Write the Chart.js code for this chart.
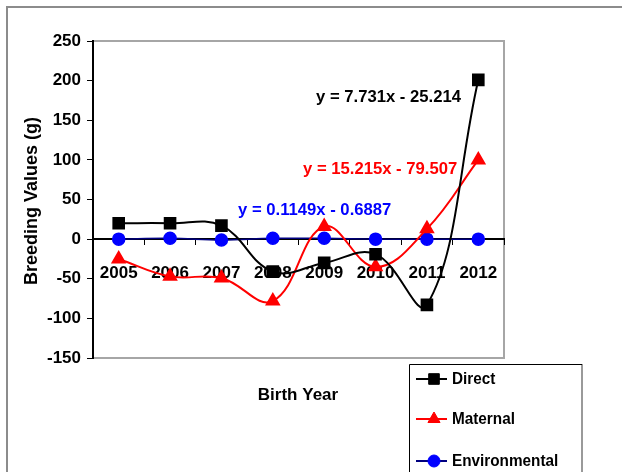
<!DOCTYPE html>
<html>
<head>
<meta charset="utf-8">
<script src="https://cdn.jsdelivr.net/npm/chart.js@4.4.0/dist/chart.umd.min.js"></script>
<style>
html,body{margin:0;padding:0;background:#fff;}
#wrap{width:622px;height:472px;position:relative;}
</style>
</head>
<body>
<div id="wrap"><canvas id="c" width="622" height="472"></canvas></div>
<script>
const categories = ['2005','2006','2007','2008','2009','2010','2011','2012'];
const directValues = [20, 20, 17, -41, -30, -19, -83, 201];
const maternalValues = [-25, -47, -49, -78, 16, -35, 13, 100];
const environmentalValues = [0, 1, -1, 1, 1, 0, 0, 0];
const seriesNames = ['Direct', 'Maternal', 'Environmental'];
const trendLabels = ['y = 7.731x - 25.214', 'y = 15.215x - 79.507', 'y = 0.1149x - 0.6887'];
const yTitle = 'Breeding Values (g)';
const xTitle = 'Birth Year';

const FONT = '"Liberation Sans", Arial, sans-serif';

const decorPlugin = {
  id: 'decor',
  beforeDraw(chart) {
    const ctx = chart.ctx;
    const a = chart.chartArea;
    ctx.save();
    ctx.fillStyle = '#fff';
    ctx.fillRect(0, 0, chart.width, chart.height);
    ctx.strokeStyle = '#8c8c8c';
    ctx.lineWidth = 2;
    ctx.beginPath();
    ctx.moveTo(7, chart.height + 2);
    ctx.lineTo(7, 7);
    ctx.lineTo(chart.width + 2, 7);
    ctx.stroke();
    ctx.strokeStyle = '#a6a6a6';
    ctx.lineWidth = 2;
    ctx.strokeRect(a.left, a.top, a.right - a.left, a.bottom - a.top);
    ctx.restore();
  },
  afterDraw(chart) {
    const ctx = chart.ctx;
    ctx.save();
    ctx.fillStyle = '#000';
    ctx.textAlign = 'center';
    ctx.textBaseline = 'middle';
    ctx.font = 'bold 17px ' + FONT;
    ctx.fillText(xTitle, 298, 395);
    ctx.save();
    ctx.translate(32, 201);
    ctx.rotate(-Math.PI / 2);
    ctx.font = 'bold 18px ' + FONT;
    ctx.fillText(yTitle, 0, 0);
    ctx.restore();
    ctx.font = 'bold 17px ' + FONT;
    ctx.textAlign = 'left';
    const eqColors = ['#000000', '#ff0000', '#0000ff'];
    const eqPos = [[316, 97], [303, 169], [238, 210]];
    trendLabels.forEach((t, i) => {
      ctx.fillStyle = eqColors[i];
      ctx.fillText(t, eqPos[i][0], eqPos[i][1], ctx.measureText(t).width * 0.98);
    });
    // legend
    const lx = 409, ly = 364, lw = 173, lh = 120;
    ctx.fillStyle = '#fff';
    ctx.fillRect(lx, ly, lw, lh);
    ctx.strokeStyle = '#9a9a9a';
    ctx.lineWidth = 2;
    ctx.beginPath();
    ctx.moveTo(lx + lw, ly);
    ctx.lineTo(lx + lw, ly + lh);
    ctx.stroke();
    ctx.strokeStyle = '#000';
    ctx.lineWidth = 1;
    ctx.beginPath();
    ctx.moveTo(lx + 0.5, ly + lh);
    ctx.lineTo(lx + 0.5, ly + 0.5);
    ctx.lineTo(lx + lw, ly + 0.5);
    ctx.stroke();
    const rowsY = [379, 419, 461];
    chart.data.datasets.forEach((ds, i) => {
      const y = rowsY[i];
      ctx.strokeStyle = ds.borderColor;
      ctx.lineWidth = 2;
      ctx.beginPath();
      ctx.moveTo(416, y);
      ctx.lineTo(447, y);
      ctx.stroke();
      ctx.fillStyle = ds.pointBackgroundColor;
      ctx.strokeStyle = ds.pointBorderColor;
      ctx.lineWidth = 1;
      Chart.helpers.drawPoint(ctx, {
        pointStyle: ds.pointStyle,
        radius: ds.pointRadius,
        borderWidth: 1
      }, 434, y);
      ctx.fillStyle = '#000';
      ctx.font = 'bold 17px ' + FONT;
      ctx.textAlign = 'left';
      ctx.textBaseline = 'middle';
      ctx.fillText(ds.label, 452, y, ctx.measureText(ds.label).width * 0.9);
    });
    ctx.restore();
  }
};

const chart = new Chart(document.getElementById('c'), {
  type: 'line',
  data: {
    labels: categories,
    datasets: [
      {
        label: seriesNames[0],
        data: directValues,
        borderColor: '#000000',
        backgroundColor: '#000000',
        pointBackgroundColor: '#000000',
        pointBorderColor: '#000000',
        pointStyle: 'rect',
        pointRadius: 7.5,
        borderWidth: 2,
        tension: 0.4,
        order: 1
      },
      {
        label: seriesNames[1],
        data: maternalValues,
        borderColor: '#ff0000',
        backgroundColor: '#ff0000',
        pointBackgroundColor: '#ff0000',
        pointBorderColor: '#ff0000',
        pointStyle: 'triangle',
        pointRadius: 7,
        borderWidth: 2,
        tension: 0.4,
        order: 2
      },
      {
        label: seriesNames[2],
        data: environmentalValues,
        borderColor: '#000080',
        backgroundColor: '#0000ff',
        pointBackgroundColor: '#0000ff',
        pointBorderColor: '#0000ff',
        pointStyle: 'circle',
        pointRadius: 6,
        borderWidth: 1.5,
        tension: 0.4,
        order: 3
      }
    ]
  },
  options: {
    responsive: false,
    animation: false,
    devicePixelRatio: 1,
    layout: { padding: { left: 0, top: 41, right: 118, bottom: 114 } },
    plugins: { legend: { display: false }, tooltip: { enabled: false } },
    scales: {
      x: {
        type: 'category',
        position: { y: 0 },
        offset: true,
        grid: { display: true, drawOnChartArea: false, offset: true, tickLength: 5, color: '#000', lineWidth: 1 },
        border: { display: true, color: '#000', width: 2 },
        ticks: { color: '#000', font: { family: FONT, size: 17, weight: 'bold' }, padding: 19, maxRotation: 0, autoSkip: false }
      },
      y: {
        min: -150,
        max: 250,
        afterFit(scale) { scale.width = 93; },
        grid: { display: true, drawOnChartArea: false, tickLength: 6, color: '#000', lineWidth: 1 },
        border: { display: true, color: '#000', width: 2 },
        ticks: { stepSize: 50, color: '#000', font: { family: FONT, size: 17, weight: 'bold' }, padding: 6 }
      }
    }
  },
  plugins: [decorPlugin]
});
</script>
</body>
</html>
